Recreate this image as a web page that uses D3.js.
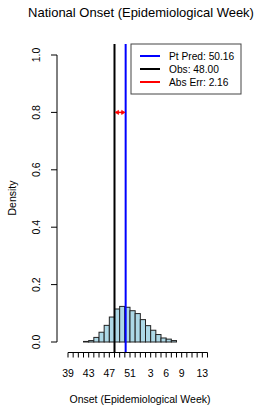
<!DOCTYPE html>
<html><head><meta charset="utf-8">
<script src="https://cdn.jsdelivr.net/npm/d3@7"></script>
<style>body{margin:0;background:#fff}svg{display:block}text{font-family:"Liberation Sans",Arial,sans-serif}</style>
</head><body>
<script>
// week labels along the x axis (tick index 0..27)
const weeks = [39,40,41,42,43,44,45,46,47,48,49,50,51,52,1,2,3,4,5,6,7,8,9,10,11,12,13,14];
const shownLabels = [39,43,47,51,3,6,9,13];
// histogram densities, bin i spans tick i .. i+1
const density = [0,0,0,0.002,0.005,0.016,0.034,0.058,0.087,0.115,0.124,0.121,0.109,0.099,0.078,0.057,0.041,0.026,0.014,0.010,0.005,0,0,0,0,0,0];
const yTicks = [0,0.2,0.4,0.6,0.8,1.0];
const ptPred = 50.16, obs = 48.00, absErr = 2.16;
const legendItems = [
  {label:"Pt Pred: 50.16", color:"#0000ff"},
  {label:"Obs: 48.00", color:"#000000"},
  {label:"Abs Err: 2.16", color:"#ff0000"}
];
function weekToIdx(w){ return w >= 39 ? w - 39 : w + 13; }

const W=274,H=411;
const svg=d3.select("body").append("svg").attr("width",W).attr("height",H);
const x=d3.scaleLinear().domain([0,27]).range([68,207.5]);
const y=d3.scaleLinear().domain([0,1]).range([342,55]);
const plotTop=44, plotBottom=353;

// title
svg.append("text").attr("x",141).attr("y",17).attr("text-anchor","middle").attr("font-size",13).text("National Onset (Epidemiological Week)");

// histogram
svg.append("g").selectAll("rect").data(density).join("rect")
  .attr("x",(d,i)=>x(i)).attr("width",(d,i)=>x(i+1)-x(i))
  .attr("y",d=>y(d)).attr("height",d=>y(0)-y(d))
  .attr("fill","#add8e6").attr("stroke","#222").attr("stroke-width",1);

// vertical lines
svg.append("line").attr("x1",x(weekToIdx(obs))).attr("x2",x(weekToIdx(obs))).attr("y1",plotTop).attr("y2",plotBottom).attr("stroke","#000").attr("stroke-width",2);
svg.append("line").attr("x1",x(weekToIdx(ptPred))).attr("x2",x(weekToIdx(ptPred))).attr("y1",plotTop).attr("y2",plotBottom).attr("stroke","#0000ff").attr("stroke-width",2);

// abs err arrow
const ay=y(0.8), ax1=x(weekToIdx(obs))+1, ax2=x(weekToIdx(ptPred))-1;
svg.append("line").attr("x1",ax1).attr("x2",ax2).attr("y1",ay).attr("y2",ay).attr("stroke","#ff0000").attr("stroke-width",1.5);
svg.append("path").attr("d",`M${ax1},${ay}l3,-2l0,4z M${ax2},${ay}l-3,-2l0,4z`).attr("fill","#ff0000").attr("stroke","#ff0000").attr("stroke-width",0.8);

// y axis
const yAxis=svg.append("g").attr("transform","translate(57,0)");
yAxis.append("line").attr("x1",0).attr("x2",0).attr("y1",y(0)).attr("y2",y(1)).attr("stroke","#000");
yAxis.selectAll("line.t").data(yTicks).join("line").attr("class","t").attr("x1",-6).attr("x2",0).attr("y1",d=>y(d)).attr("y2",d=>y(d)).attr("stroke","#000");
yAxis.selectAll("text").data(yTicks).join("text")
  .attr("transform",d=>`translate(-17,${y(d)}) rotate(-90)`).attr("text-anchor","middle").attr("font-size",10.5)
  .text(d=>d.toFixed(1));
svg.append("text").attr("transform",`translate(16,198) rotate(-90)`).attr("text-anchor","middle").attr("font-size",10.5).text("Density");

// x axis
const xAxis=svg.append("g").attr("transform","translate(0,352.5)");
xAxis.append("line").attr("x1",x(0)).attr("x2",x(27)).attr("stroke","#000");
xAxis.selectAll("line.t").data(weeks).join("line").attr("class","t")
  .attr("x1",(d,i)=>x(i)).attr("x2",(d,i)=>x(i)).attr("y1",0).attr("y2",5).attr("stroke","#000");
xAxis.selectAll("text").data(shownLabels).join("text")
  .attr("x",d=>x(weekToIdx(d))).attr("y",24).attr("text-anchor","middle").attr("font-size",10.5).text(d=>d);
svg.append("text").attr("x",140).attr("y",403).attr("text-anchor","middle").attr("font-size",10.5).text("Onset (Epidemiological Week)");

// legend
const lg=svg.append("g");
lg.append("rect").attr("x",131).attr("y",44).attr("width",110).attr("height",50).attr("fill","#fff").attr("stroke","#444");
legendItems.forEach((it,i)=>{
  const ly=56+i*13;
  lg.append("line").attr("x1",140).attr("x2",160).attr("y1",ly).attr("y2",ly).attr("stroke",it.color).attr("stroke-width",2);
  lg.append("text").attr("x",169).attr("y",ly+3.5).attr("font-size",10.2).text(it.label);
});
</script>
</body></html>
